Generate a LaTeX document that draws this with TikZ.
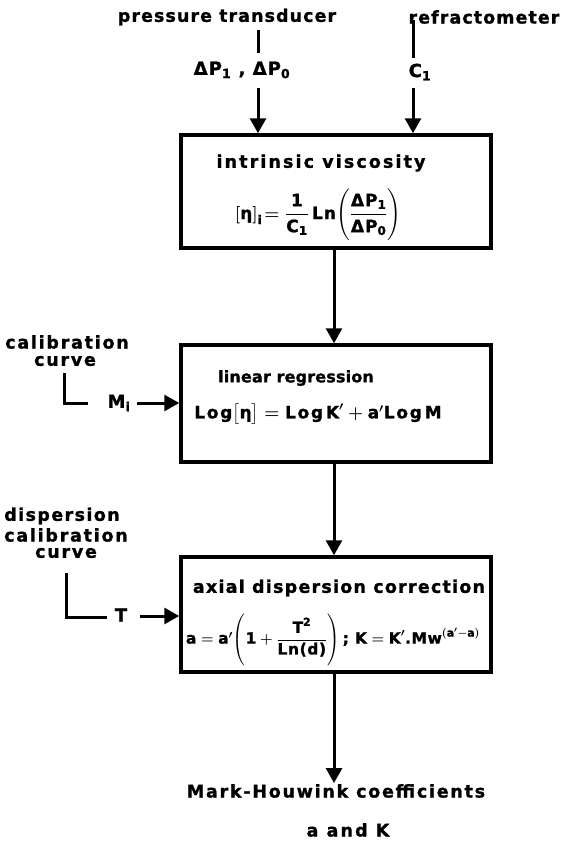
\documentclass[tikz,border=0pt]{standalone}
\usepackage{amsmath}
\usepackage{fontspec}
\setmainfont{DejaVu Sans}[BoldFeatures={FakeBold=1.2}]
\usetikzlibrary{arrows.meta}
\begin{document}
\begin{tikzpicture}[x=1pt,y=-1pt]
\tikzset{
  lab/.style args={#1/#2}{font=\bfseries\addfontfeature{LetterSpace=#2}\fontsize{#1}{#1}\selectfont, inner sep=1pt},
  frm/.style args={#1/#2}{font=\bfseries\boldmath\addfontfeature{LetterSpace=#2}\fontsize{#1}{#1}\selectfont, inner sep=0pt},
  flowbox/.style={draw, line width=3.5pt, minimum width=310pt, inner sep=0pt},
  conn/.style={line width=3pt},
  arr/.style={conn, -{Triangle[length=15pt,width=16pt]}},
}
\useasboundingbox (0,0) rectangle (566,849);

% sources
\node[lab=17.5/6] (pt) at (227,17) {pressure transducer};
\node[lab=17.5/6] (rf) at (484,17) {refractometer};
\node[lab=18/6] (dp) at (242,70) {ΔP$_{\text{1}}$ , ΔP$_{\text{0}}$};
\node[lab=18/6] (c1) at (420,72) {C$_{\text{1}}$};

% processing boxes
\node[flowbox, minimum height=113pt] (b1) at (336,191.5) {};
\node[flowbox, minimum height=117pt] (b2) at (336,403.5) {};
\node[flowbox, minimum height=115pt] (b3) at (336,614.5) {};

\node[lab=17.5/12] (t1) at (321,163) {intrinsic viscosity};
\node[frm=17/6] (f1) at (318,215) {$\left[\text{η}\right]_{\text{i}}\!=\dfrac{\text{1}}{\text{C}_{\text{1}}}\,\text{Ln}\!\left(\rule[-22pt]{0pt}{50pt}\dfrac{\text{ΔP}_{\text{1}}}{\text{ΔP}_{\text{0}}}\right)$};

\node[lab=16/1] (t2) at (296,378) {linear regression};
\node[frm=17/10] (f2) at (318,414) {$\text{Log}\bigl[\text{η}\bigr]=\text{Log\,K}'+\text{a}'\text{Log\,M}$};

\node[lab=17.5/7] (t3) at (339,588) {axial dispersion correction};
\node[frm=15.5/4] (f3) at (333,640) {$\text{a}=\text{a}'\!\left(\rule[-21pt]{0pt}{48pt}\text{1}+\dfrac{\text{T}^{\text{2}}}{\text{Ln(d)}}\right)\text{; K}=\text{K}'\text{.Mw}^{(\text{a}'-\text{a})}$};

% side inputs
\node[lab=17.5/10] (cal1) at (67,342) {calibration};
\node[lab=17.5/10] (cal2) at (65,361) {curve};
\node[lab=18/4] (mi) at (119,403) {M$_{\text{i}}$};

\node[lab=17.5/8] (d1) at (62,516) {dispersion};
\node[lab=17.5/10] (d2) at (66,535) {calibration};
\node[lab=17.5/10] (d3) at (66,553) {curve};
\node[lab=18/4] (tt) at (121,615) {T};

% result
\node[lab=17.5/10] (mh) at (336,791) {Mark-Houwink coefficients};
\node[lab=17.5/12] (ak) at (348,830) {a and K};

% connector anchors
\coordinate (pA) at (258,30);
\coordinate (pB) at (258,53);
\coordinate (pC) at (258,88);
\coordinate (rA) at (413,20);
\coordinate (rB) at (413,58);
\coordinate (rC) at (413,88);
\coordinate (cL) at (64,373);
\coordinate (cE) at (88,403);
\coordinate (dL) at (66,573);
\coordinate (dE) at (107,617);
\coordinate (tS) at (140,616);
\coordinate (mS) at (137,403);
\coordinate (ax) at (334,0);

% connectors
\draw[conn] (pA) -- (pB);
\draw[arr] (pC) -- (pC |- b1.north);
\draw[conn] (rA) -- (rB);
\draw[arr] (rC) -- (rC |- b1.north);
\draw[arr] (ax |- b1.south) -- (ax |- b2.north);
\draw[arr] (ax |- b2.south) -- (ax |- b3.north);
\draw[arr] (ax |- b3.south) -- (ax |- mh.north);
\draw[conn] (cL) |- (cE);
\draw[arr] (mS) -- (mS -| b2.west);
\draw[conn] (dL) |- (dE);
\draw[arr] (tS) -- (tS -| b3.west);
\end{tikzpicture}
\end{document}
